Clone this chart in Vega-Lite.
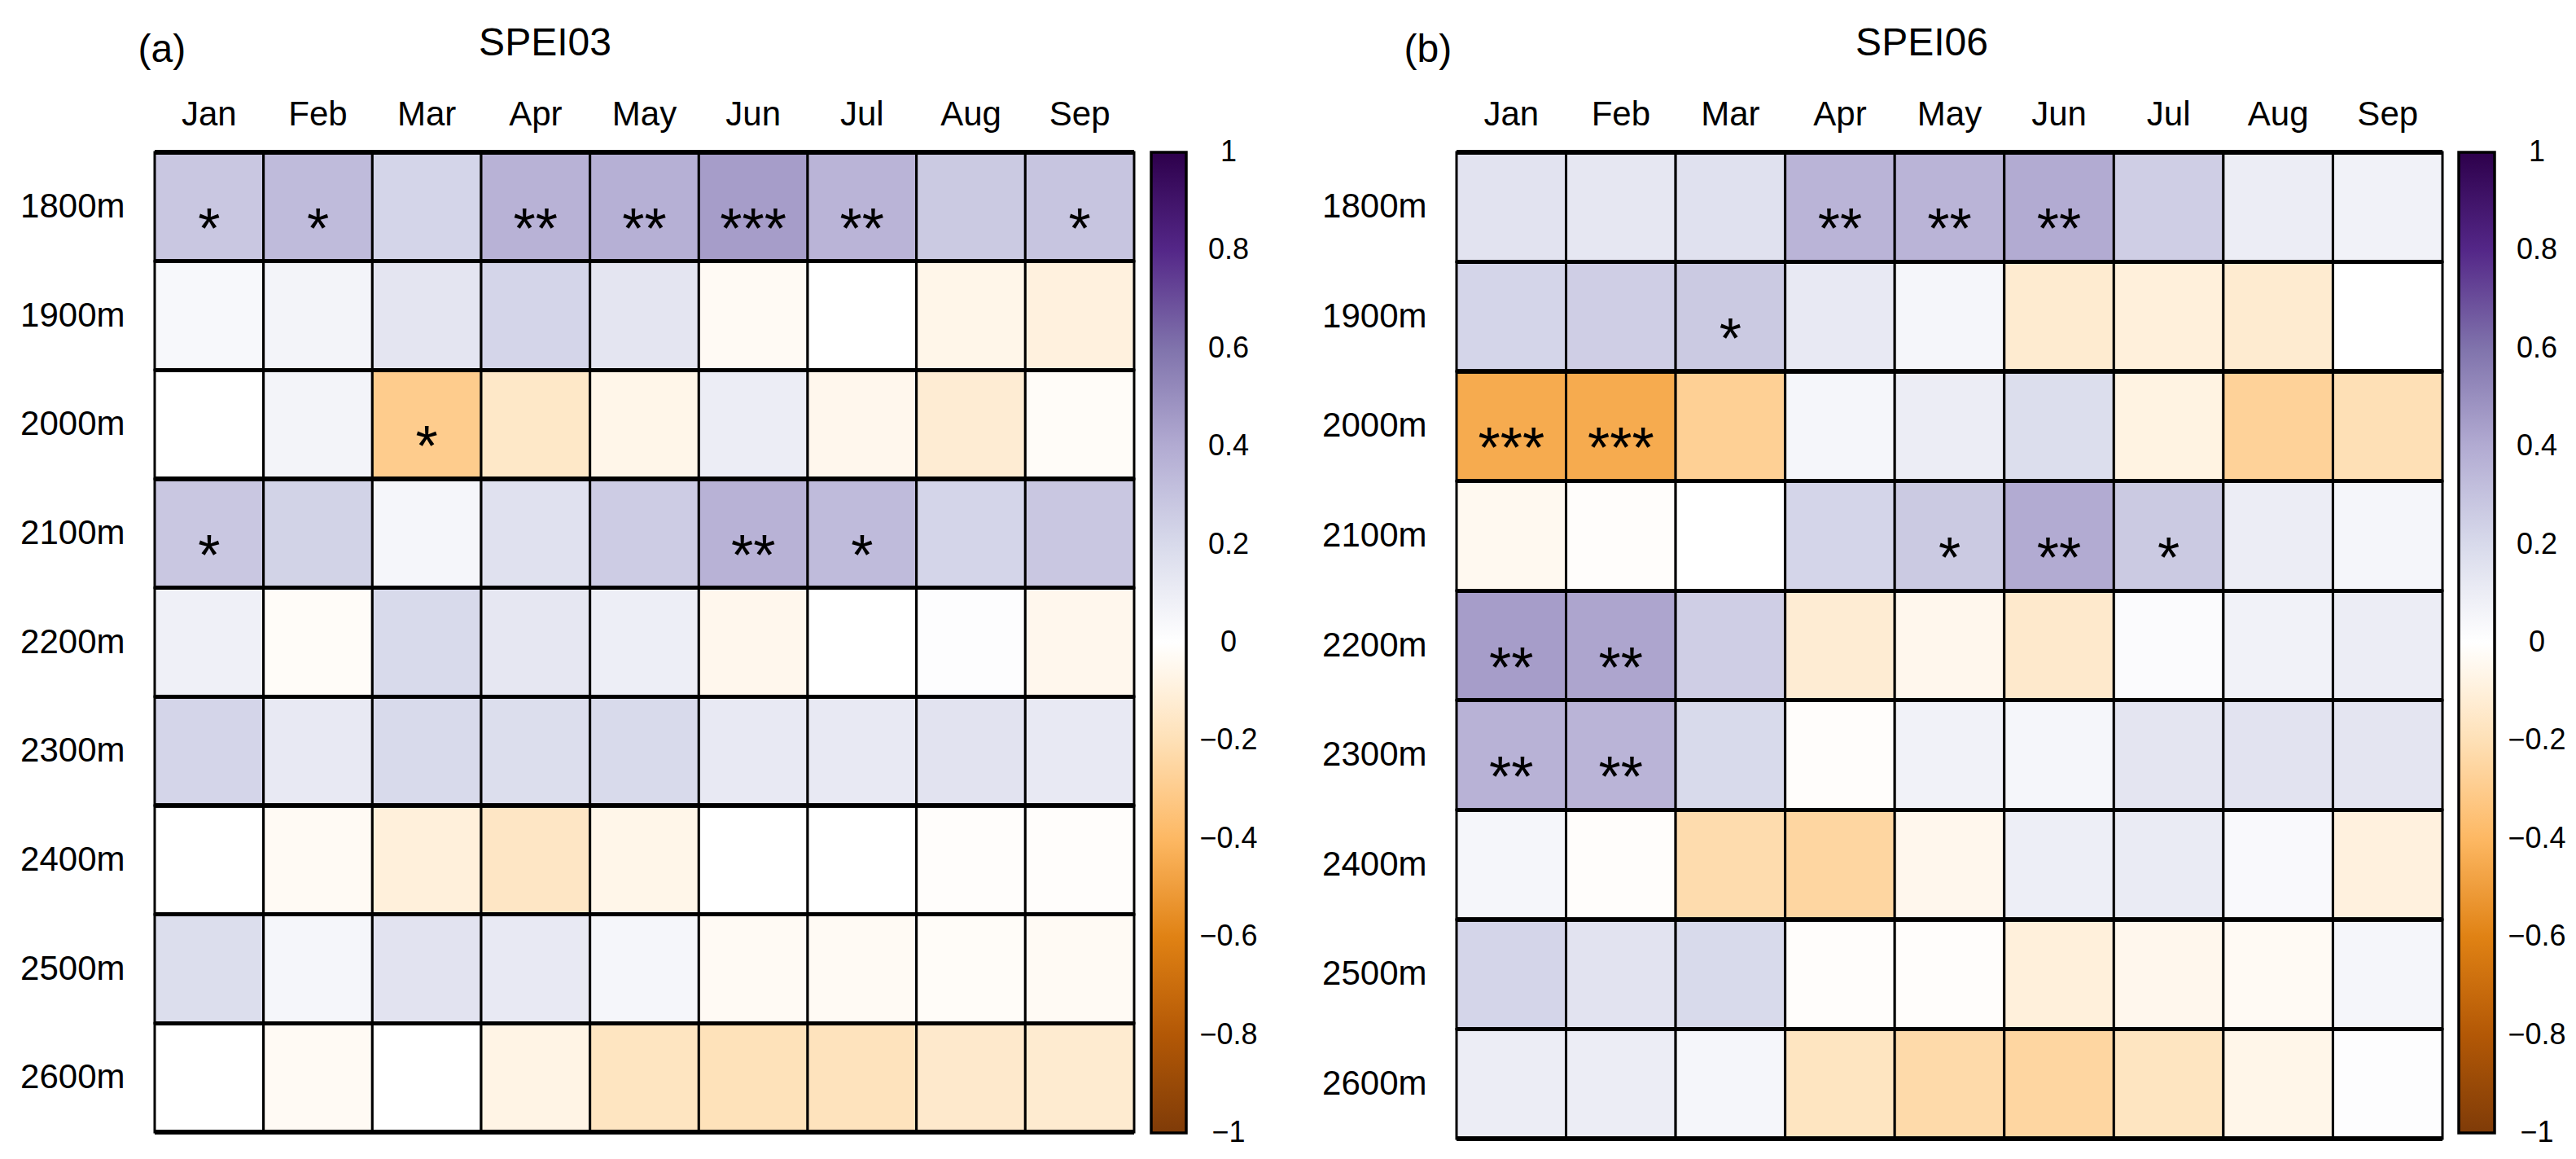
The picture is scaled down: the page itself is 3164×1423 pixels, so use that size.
{
  "$schema": "https://vega.github.io/schema/vega-lite/v6.json",
  "padding": {"left": 24, "top": 29, "right": 0, "bottom": 0},
  "background": "white",
  "spacing": 78,
  "config": {
    "view": {"stroke": null},
    "font": "Liberation Sans",
    "axis": {"domain": false, "ticks": false, "labelFontSize": 42, "labelColor": "black", "labelFont": "Liberation Sans", "titleFontWeight": "normal", "titleColor": "black", "titleFont": "Liberation Sans", "titleFontSize": 48, "grid": false},
    "legend": {"padding": 0}
  },
  "resolve": {"scale": {"color": "independent"}, "legend": {"color": "independent"}},
  "datasets": {
    "spei03": [
      {"month":"Jan","elev":"1800m","r":0.28,"sig":"*"},{"month":"Feb","elev":"1800m","r":0.33,"sig":"*"},{"month":"Mar","elev":"1800m","r":0.22,"sig":""},{"month":"Apr","elev":"1800m","r":0.37,"sig":"**"},{"month":"May","elev":"1800m","r":0.38,"sig":"**"},{"month":"Jun","elev":"1800m","r":0.45,"sig":"***"},{"month":"Jul","elev":"1800m","r":0.36,"sig":"**"},{"month":"Aug","elev":"1800m","r":0.27,"sig":""},{"month":"Sep","elev":"1800m","r":0.29,"sig":"*"},
      {"month":"Jan","elev":"1900m","r":0.04,"sig":""},{"month":"Feb","elev":"1900m","r":0.06,"sig":""},{"month":"Mar","elev":"1900m","r":0.14,"sig":""},{"month":"Apr","elev":"1900m","r":0.22,"sig":""},{"month":"May","elev":"1900m","r":0.14,"sig":""},{"month":"Jun","elev":"1900m","r":-0.03,"sig":""},{"month":"Jul","elev":"1900m","r":0.0,"sig":""},{"month":"Aug","elev":"1900m","r":-0.06,"sig":""},{"month":"Sep","elev":"1900m","r":-0.09,"sig":""},
      {"month":"Jan","elev":"2000m","r":0.0,"sig":""},{"month":"Feb","elev":"2000m","r":0.06,"sig":""},{"month":"Mar","elev":"2000m","r":-0.3,"sig":"*"},{"month":"Apr","elev":"2000m","r":-0.15,"sig":""},{"month":"May","elev":"2000m","r":-0.06,"sig":""},{"month":"Jun","elev":"2000m","r":0.1,"sig":""},{"month":"Jul","elev":"2000m","r":-0.05,"sig":""},{"month":"Aug","elev":"2000m","r":-0.12,"sig":""},{"month":"Sep","elev":"2000m","r":-0.02,"sig":""},
      {"month":"Jan","elev":"2100m","r":0.28,"sig":"*"},{"month":"Feb","elev":"2100m","r":0.23,"sig":""},{"month":"Mar","elev":"2100m","r":0.05,"sig":""},{"month":"Apr","elev":"2100m","r":0.16,"sig":""},{"month":"May","elev":"2100m","r":0.26,"sig":""},{"month":"Jun","elev":"2100m","r":0.37,"sig":"**"},{"month":"Jul","elev":"2100m","r":0.33,"sig":"*"},{"month":"Aug","elev":"2100m","r":0.22,"sig":""},{"month":"Sep","elev":"2100m","r":0.28,"sig":""},
      {"month":"Jan","elev":"2200m","r":0.08,"sig":""},{"month":"Feb","elev":"2200m","r":-0.02,"sig":""},{"month":"Mar","elev":"2200m","r":0.2,"sig":""},{"month":"Apr","elev":"2200m","r":0.13,"sig":""},{"month":"May","elev":"2200m","r":0.09,"sig":""},{"month":"Jun","elev":"2200m","r":-0.05,"sig":""},{"month":"Jul","elev":"2200m","r":0.0,"sig":""},{"month":"Aug","elev":"2200m","r":0.01,"sig":""},{"month":"Sep","elev":"2200m","r":-0.05,"sig":""},
      {"month":"Jan","elev":"2300m","r":0.22,"sig":""},{"month":"Feb","elev":"2300m","r":0.12,"sig":""},{"month":"Mar","elev":"2300m","r":0.2,"sig":""},{"month":"Apr","elev":"2300m","r":0.18,"sig":""},{"month":"May","elev":"2300m","r":0.2,"sig":""},{"month":"Jun","elev":"2300m","r":0.12,"sig":""},{"month":"Jul","elev":"2300m","r":0.12,"sig":""},{"month":"Aug","elev":"2300m","r":0.15,"sig":""},{"month":"Sep","elev":"2300m","r":0.12,"sig":""},
      {"month":"Jan","elev":"2400m","r":0.0,"sig":""},{"month":"Feb","elev":"2400m","r":-0.03,"sig":""},{"month":"Mar","elev":"2400m","r":-0.1,"sig":""},{"month":"Apr","elev":"2400m","r":-0.16,"sig":""},{"month":"May","elev":"2400m","r":-0.06,"sig":""},{"month":"Jun","elev":"2400m","r":0.0,"sig":""},{"month":"Jul","elev":"2400m","r":0.0,"sig":""},{"month":"Aug","elev":"2400m","r":-0.01,"sig":""},{"month":"Sep","elev":"2400m","r":-0.01,"sig":""},
      {"month":"Jan","elev":"2500m","r":0.18,"sig":""},{"month":"Feb","elev":"2500m","r":0.05,"sig":""},{"month":"Mar","elev":"2500m","r":0.15,"sig":""},{"month":"Apr","elev":"2500m","r":0.12,"sig":""},{"month":"May","elev":"2500m","r":0.05,"sig":""},{"month":"Jun","elev":"2500m","r":-0.03,"sig":""},{"month":"Jul","elev":"2500m","r":-0.03,"sig":""},{"month":"Aug","elev":"2500m","r":-0.02,"sig":""},{"month":"Sep","elev":"2500m","r":-0.03,"sig":""},
      {"month":"Jan","elev":"2600m","r":0.0,"sig":""},{"month":"Feb","elev":"2600m","r":-0.03,"sig":""},{"month":"Mar","elev":"2600m","r":0.0,"sig":""},{"month":"Apr","elev":"2600m","r":-0.07,"sig":""},{"month":"May","elev":"2600m","r":-0.17,"sig":""},{"month":"Jun","elev":"2600m","r":-0.19,"sig":""},{"month":"Jul","elev":"2600m","r":-0.18,"sig":""},{"month":"Aug","elev":"2600m","r":-0.14,"sig":""},{"month":"Sep","elev":"2600m","r":-0.13,"sig":""}
    ],
    "spei06": [
      {"month":"Jan","elev":"1800m","r":0.15,"sig":""},{"month":"Feb","elev":"1800m","r":0.13,"sig":""},{"month":"Mar","elev":"1800m","r":0.16,"sig":""},{"month":"Apr","elev":"1800m","r":0.36,"sig":"**"},{"month":"May","elev":"1800m","r":0.36,"sig":"**"},{"month":"Jun","elev":"1800m","r":0.4,"sig":"**"},{"month":"Jul","elev":"1800m","r":0.25,"sig":""},{"month":"Aug","elev":"1800m","r":0.1,"sig":""},{"month":"Sep","elev":"1800m","r":0.07,"sig":""},
      {"month":"Jan","elev":"1900m","r":0.22,"sig":""},{"month":"Feb","elev":"1900m","r":0.25,"sig":""},{"month":"Mar","elev":"1900m","r":0.27,"sig":"*"},{"month":"Apr","elev":"1900m","r":0.12,"sig":""},{"month":"May","elev":"1900m","r":0.05,"sig":""},{"month":"Jun","elev":"1900m","r":-0.13,"sig":""},{"month":"Jul","elev":"1900m","r":-0.1,"sig":""},{"month":"Aug","elev":"1900m","r":-0.13,"sig":""},{"month":"Sep","elev":"1900m","r":0.0,"sig":""},
      {"month":"Jan","elev":"2000m","r":-0.45,"sig":"***"},{"month":"Feb","elev":"2000m","r":-0.45,"sig":"***"},{"month":"Mar","elev":"2000m","r":-0.28,"sig":""},{"month":"Apr","elev":"2000m","r":0.05,"sig":""},{"month":"May","elev":"2000m","r":0.1,"sig":""},{"month":"Jun","elev":"2000m","r":0.18,"sig":""},{"month":"Jul","elev":"2000m","r":-0.08,"sig":""},{"month":"Aug","elev":"2000m","r":-0.27,"sig":""},{"month":"Sep","elev":"2000m","r":-0.2,"sig":""},
      {"month":"Jan","elev":"2100m","r":-0.04,"sig":""},{"month":"Feb","elev":"2100m","r":-0.01,"sig":""},{"month":"Mar","elev":"2100m","r":0.0,"sig":""},{"month":"Apr","elev":"2100m","r":0.22,"sig":""},{"month":"May","elev":"2100m","r":0.27,"sig":"*"},{"month":"Jun","elev":"2100m","r":0.4,"sig":"**"},{"month":"Jul","elev":"2100m","r":0.27,"sig":"*"},{"month":"Aug","elev":"2100m","r":0.1,"sig":""},{"month":"Sep","elev":"2100m","r":0.05,"sig":""},
      {"month":"Jan","elev":"2200m","r":0.45,"sig":"**"},{"month":"Feb","elev":"2200m","r":0.42,"sig":"**"},{"month":"Mar","elev":"2200m","r":0.25,"sig":""},{"month":"Apr","elev":"2200m","r":-0.12,"sig":""},{"month":"May","elev":"2200m","r":-0.05,"sig":""},{"month":"Jun","elev":"2200m","r":-0.14,"sig":""},{"month":"Jul","elev":"2200m","r":0.02,"sig":""},{"month":"Aug","elev":"2200m","r":0.07,"sig":""},{"month":"Sep","elev":"2200m","r":0.1,"sig":""},
      {"month":"Jan","elev":"2300m","r":0.37,"sig":"**"},{"month":"Feb","elev":"2300m","r":0.36,"sig":"**"},{"month":"Mar","elev":"2300m","r":0.2,"sig":""},{"month":"Apr","elev":"2300m","r":-0.01,"sig":""},{"month":"May","elev":"2300m","r":0.07,"sig":""},{"month":"Jun","elev":"2300m","r":0.05,"sig":""},{"month":"Jul","elev":"2300m","r":0.14,"sig":""},{"month":"Aug","elev":"2300m","r":0.15,"sig":""},{"month":"Sep","elev":"2300m","r":0.14,"sig":""},
      {"month":"Jan","elev":"2400m","r":0.05,"sig":""},{"month":"Feb","elev":"2400m","r":-0.01,"sig":""},{"month":"Mar","elev":"2400m","r":-0.22,"sig":""},{"month":"Apr","elev":"2400m","r":-0.25,"sig":""},{"month":"May","elev":"2400m","r":-0.05,"sig":""},{"month":"Jun","elev":"2400m","r":0.09,"sig":""},{"month":"Jul","elev":"2400m","r":0.11,"sig":""},{"month":"Aug","elev":"2400m","r":0.03,"sig":""},{"month":"Sep","elev":"2400m","r":-0.09,"sig":""},
      {"month":"Jan","elev":"2500m","r":0.22,"sig":""},{"month":"Feb","elev":"2500m","r":0.15,"sig":""},{"month":"Mar","elev":"2500m","r":0.2,"sig":""},{"month":"Apr","elev":"2500m","r":-0.01,"sig":""},{"month":"May","elev":"2500m","r":-0.01,"sig":""},{"month":"Jun","elev":"2500m","r":-0.1,"sig":""},{"month":"Jul","elev":"2500m","r":-0.05,"sig":""},{"month":"Aug","elev":"2500m","r":-0.03,"sig":""},{"month":"Sep","elev":"2500m","r":0.05,"sig":""},
      {"month":"Jan","elev":"2600m","r":0.1,"sig":""},{"month":"Feb","elev":"2600m","r":0.1,"sig":""},{"month":"Mar","elev":"2600m","r":0.05,"sig":""},{"month":"Apr","elev":"2600m","r":-0.17,"sig":""},{"month":"May","elev":"2600m","r":-0.23,"sig":""},{"month":"Jun","elev":"2600m","r":-0.25,"sig":""},{"month":"Jul","elev":"2600m","r":-0.17,"sig":""},{"month":"Aug","elev":"2600m","r":-0.06,"sig":""},{"month":"Sep","elev":"2600m","r":0.01,"sig":""}
    ]
  },
  "hconcat": [
    {
      "width": 1203,
      "height": 1203,
      "data": {"name": "spei03"},
      "encoding": {
        "y": {"field": "elev", "type": "nominal", "sort": ["1800m","1900m","2000m","2100m","2200m","2300m","2400m","2500m","2600m"], "scale": {"paddingInner": 0, "paddingOuter": 0},
              "axis": {"labelPadding": 37, "title": "(a)", "titleAngle": 0, "titleX": -21, "titleY": -112, "titleAlign": "left", "titleBaseline": "alphabetic"}}
      },
      "layer": [
        {
          "mark": {"type": "rect", "stroke": "black", "strokeWidth": 3},
          "encoding": {
            "x": {"field": "month", "type": "nominal", "sort": ["Jan","Feb","Mar","Apr","May","Jun","Jul","Aug","Sep"], "scale": {"paddingInner": 0, "paddingOuter": 0},
                  "axis": {"orient": "top", "labelAngle": 0, "labelPadding": 25, "title": "SPEI03", "titleX": 479, "titleY": -120, "titleAlign": "center", "titleBaseline": "alphabetic", "titleAnchor": null}},
            "color": {"field": "r", "type": "quantitative",
              "scale": {"type": "linear", "interpolate": "rgb", "domain": [-1,-0.8,-0.6,-0.4,-0.2,0,0.2,0.4,0.6,0.8,1], "range": ["#7f3b08","#b35806","#e08214","#fdb863","#fee0b6","#ffffff","#d8daeb","#b2abd2","#8073ac","#542788","#2d004b"]},
              "legend": {"title": null, "values": [1,0.8,0.6,0.4,0.2,0,-0.2,-0.4,-0.6,-0.8,-1], "format": "~g", "gradientLength": 1204, "gradientThickness": 43, "gradientStrokeColor": "black", "gradientStrokeWidth": 3.5, "labelFontSize": 36, "labelFont": "Liberation Sans", "labelColor": "black", "labelOffset": 52, "labelOverlap": false, "offset": 21, "padding": 0,
                "encode": {"labels": {"update": {"align": {"value": "center"}, "baseline": {"value": "middle"}}}}}}
          }
        },
        {
          "mark": {"type": "rule", "strokeWidth": 4.5, "color": "black"},
          "encoding": {"y": {"field": "elev", "type": "nominal", "bandPosition": 0, "sort": ["1800m","1900m","2000m","2100m","2200m","2300m","2400m","2500m","2600m"]}}
        },
        {
          "transform": [{"filter": "datum.elev == '2600m'"}],
          "mark": {"type": "rule", "strokeWidth": 4.5, "color": "black"},
          "encoding": {"y": {"field": "elev", "type": "nominal", "bandPosition": 1, "sort": ["1800m","1900m","2000m","2100m","2200m","2300m","2400m","2500m","2600m"]}}
        },
        {
          "mark": {"type": "text", "fontSize": 70, "baseline": "alphabetic", "dy": 51, "color": "black", "font": "Liberation Sans"},
          "encoding": {
            "x": {"field": "month", "type": "nominal", "sort": ["Jan","Feb","Mar","Apr","May","Jun","Jul","Aug","Sep"]},
            "text": {"field": "sig"}
          }
        }
      ]
    },
    {
      "width": 1211,
      "height": 1211,
      "data": {"name": "spei06"},
      "encoding": {
        "y": {"field": "elev", "type": "nominal", "sort": ["1800m","1900m","2000m","2100m","2200m","2300m","2400m","2500m","2600m"], "scale": {"paddingInner": 0, "paddingOuter": 0},
              "axis": {"labelPadding": 37, "title": "(b)", "titleAngle": 0, "titleX": -65, "titleY": -112, "titleAlign": "left", "titleBaseline": "alphabetic"}}
      },
      "layer": [
        {
          "mark": {"type": "rect", "stroke": "black", "strokeWidth": 3},
          "encoding": {
            "x": {"field": "month", "type": "nominal", "sort": ["Jan","Feb","Mar","Apr","May","Jun","Jul","Aug","Sep"], "scale": {"paddingInner": 0, "paddingOuter": 0},
                  "axis": {"orient": "top", "labelAngle": 0, "labelPadding": 25, "title": "SPEI06", "titleX": 571, "titleY": -120, "titleAlign": "center", "titleBaseline": "alphabetic", "titleAnchor": null}},
            "color": {"field": "r", "type": "quantitative",
              "scale": {"type": "linear", "interpolate": "rgb", "domain": [-1,-0.8,-0.6,-0.4,-0.2,0,0.2,0.4,0.6,0.8,1], "range": ["#7f3b08","#b35806","#e08214","#fdb863","#fee0b6","#ffffff","#d8daeb","#b2abd2","#8073ac","#542788","#2d004b"]},
              "legend": {"title": null, "values": [1,0.8,0.6,0.4,0.2,0,-0.2,-0.4,-0.6,-0.8,-1], "format": "~g", "gradientLength": 1204, "gradientThickness": 44, "gradientStrokeColor": "black", "gradientStrokeWidth": 3.5, "labelFontSize": 36, "labelFont": "Liberation Sans", "labelColor": "black", "labelOffset": 52, "labelOverlap": false, "offset": 20, "padding": 0,
                "encode": {"labels": {"update": {"align": {"value": "center"}, "baseline": {"value": "middle"}}}}}}
          }
        },
        {
          "mark": {"type": "rule", "strokeWidth": 4.5, "color": "black"},
          "encoding": {"y": {"field": "elev", "type": "nominal", "bandPosition": 0, "sort": ["1800m","1900m","2000m","2100m","2200m","2300m","2400m","2500m","2600m"]}}
        },
        {
          "transform": [{"filter": "datum.elev == '2600m'"}],
          "mark": {"type": "rule", "strokeWidth": 4.5, "color": "black"},
          "encoding": {"y": {"field": "elev", "type": "nominal", "bandPosition": 1, "sort": ["1800m","1900m","2000m","2100m","2200m","2300m","2400m","2500m","2600m"]}}
        },
        {
          "mark": {"type": "text", "fontSize": 70, "baseline": "alphabetic", "dy": 51, "color": "black", "font": "Liberation Sans"},
          "encoding": {
            "x": {"field": "month", "type": "nominal", "sort": ["Jan","Feb","Mar","Apr","May","Jun","Jul","Aug","Sep"]},
            "text": {"field": "sig"}
          }
        }
      ]
    }
  ]
}
